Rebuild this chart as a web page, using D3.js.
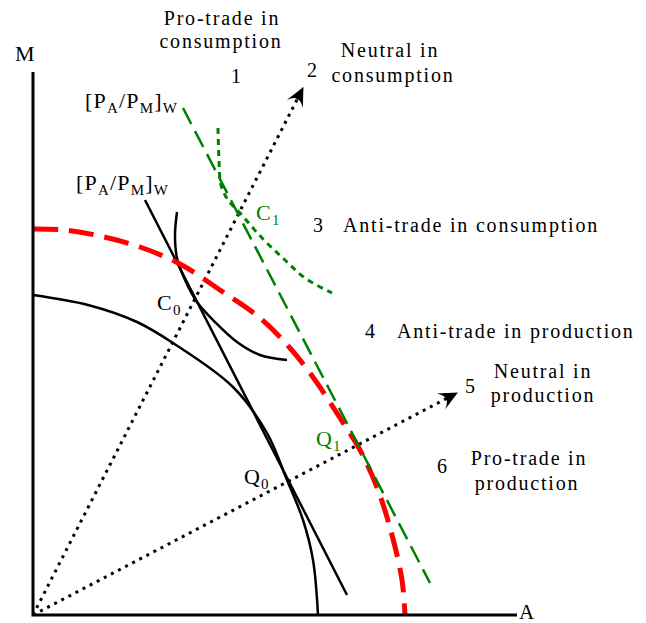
<!DOCTYPE html>
<html>
<head>
<meta charset="utf-8">
<script src="https://cdn.jsdelivr.net/npm/d3@7"></script>
<style>
body { margin: 0; background: #fff; }
text { font-family: "Liberation Serif", "Times New Roman", serif; fill: #000; }
</style>
</head>
<body>
<script>
// curves, in plot units (origin at the corner of the axes)
var ppfOld = [[0,320],[55,310],[104,293],[140,272],[200,228],[234,182],[254,135],[270,95],[280,55],[285,0]];
var budgetOld = [[112,415],[314,20]];
var icOld = [[144,403],[142,380],[144,357],[152,335],[164,313],[182,293],[204,273],[227,260],[254,255]];
var ppfNew = [[0,386],[32,385],[67,379],[107,368],[147,351],[187,325],[227,297],[257,267],[282,235],[307,197],[327,165],[345,125],[359,80],[369,35],[372,0]];
var budgetNew = [[150,507],[397,32]];
var icNew = [[185,487],[186,455],[188,430],[195,415],[207,402],[229,377],[252,355],[272,337],[299,322]];
var rayConsumption = [[0,0],[270,527]];
var rayProduction = [[0,0],[424,222]];

var width = 646, height = 623;

var svg = d3.select("body").append("svg")
    .attr("width", width)
    .attr("height", height);

var x = d3.scaleLinear().domain([0, 484]).range([33, 517]);
var y = d3.scaleLinear().domain([0, 543]).range([615, 72]);

var straight = d3.line().x(d => x(d[0])).y(d => y(d[1]));
var smooth = d3.line().x(d => x(d[0])).y(d => y(d[1])).curve(d3.curveCatmullRom.alpha(0.5));

// arrow head for the rays
svg.append("defs").append("marker")
    .attr("id", "arrow")
    .attr("markerUnits", "userSpaceOnUse")
    .attr("viewBox", "-20 -11 22 22")
    .attr("refX", 0).attr("refY", 0)
    .attr("markerWidth", 22).attr("markerHeight", 22)
    .attr("orient", "auto")
  .append("path")
    .attr("d", "M1,0 L-18,-9 Q-11,-3 -13,0 Q-11,3 -18,9 Z")
    .style("fill", "#000");

// dotted rays from the origin
[rayConsumption, rayProduction].forEach(function (r) {
  svg.append("path")
      .attr("d", straight(r))
      .attr("marker-end", "url(#arrow)")
      .style("fill", "none")
      .style("stroke", "#000")
      .style("stroke-width", 3)
      .style("stroke-dasharray", "3,5");
});

// initial curves
svg.append("path").attr("d", smooth(ppfOld))
    .style("fill", "none").style("stroke", "#000").style("stroke-width", 2.5);
svg.append("path").attr("d", straight(budgetOld))
    .style("fill", "none").style("stroke", "#000").style("stroke-width", 2.5);
svg.append("path").attr("d", smooth(icOld))
    .style("fill", "none").style("stroke", "#000").style("stroke-width", 2.5);

// after growth
svg.append("path").attr("d", smooth(ppfNew))
    .style("fill", "none").style("stroke", "#ff0000").style("stroke-width", 5)
    .style("stroke-dasharray", "25,11");
svg.append("path").attr("d", straight(budgetNew))
    .style("fill", "none").style("stroke", "#008000").style("stroke-width", 2.5)
    .style("stroke-dasharray", "18,8");
svg.append("path").attr("d", smooth(icNew))
    .style("fill", "none").style("stroke", "#008000").style("stroke-width", 3)
    .style("stroke-dasharray", "6,5");

// axes
svg.append("path")
    .attr("d", "M" + x(0) + "," + y(543) + "V" + y(0) + "H" + x(484))
    .style("fill", "none").style("stroke", "#000").style("stroke-width", 3);

// plain labels
var labels = [
  ["M", 15, 61, "start", 22],
  ["A", 519, 619, "start", 21],
  ["Pro-trade in", 222, 25, "middle", 20],
  ["consumption", 221, 48, "middle", 20],
  ["1", 237, 83, "middle", 20],
  ["2", 313, 77, "middle", 20],
  ["Neutral in", 390, 57, "middle", 20],
  ["consumption", 393, 82, "middle", 20],
  ["3", 319, 232, "middle", 20],
  ["Anti-trade in consumption", 343, 232, "start", 20],
  ["4", 371, 338, "middle", 20],
  ["Anti-trade in production", 397, 338, "start", 20],
  ["Neutral in", 543, 378, "middle", 20],
  ["production", 543, 402, "middle", 20],
  ["5", 471, 393, "middle", 20],
  ["6", 443, 473, "middle", 20],
  ["Pro-trade in", 529, 465, "middle", 20],
  ["production", 527, 490, "middle", 20]
];
labels.forEach(function (l) {
  svg.append("text")
      .attr("x", l[1]).attr("y", l[2])
      .attr("text-anchor", l[3])
      .style("font-size", l[4] + "px")
      .style("letter-spacing", "1.8px")
      .text(l[0]);
});

// labels with subscripts
function subLabel(px, py, parts, color) {
  var t = svg.append("text").attr("x", px).attr("y", py)
      .style("font-size", "22px").style("fill", color)
      .style("letter-spacing", "1.2px");
  parts.forEach(function (p) {
    t.append("tspan")
        .attr("dy", p[1] ? 5 : (p[2] ? -5 : 0))
        .style("font-size", p[1] ? "15px" : "22px")
        .style("fill", color)
        .text(p[0]);
  });
}
subLabel(85, 108, [["[P"], ["A", 1], ["/P", 0, 1], ["M", 1], ["]", 0, 1], ["W", 1]], "#000");
subLabel(76, 190, [["[P"], ["A", 1], ["/P", 0, 1], ["M", 1], ["]", 0, 1], ["W", 1]], "#000");
subLabel(157, 310, [["C"], ["0", 1]], "#000");
subLabel(244, 484, [["Q"], ["0", 1]], "#000");
subLabel(256, 220, [["C"], ["1", 1]], "#008000");
subLabel(316, 446, [["Q"], ["1", 1]], "#008000");
</script>
</body>
</html>
